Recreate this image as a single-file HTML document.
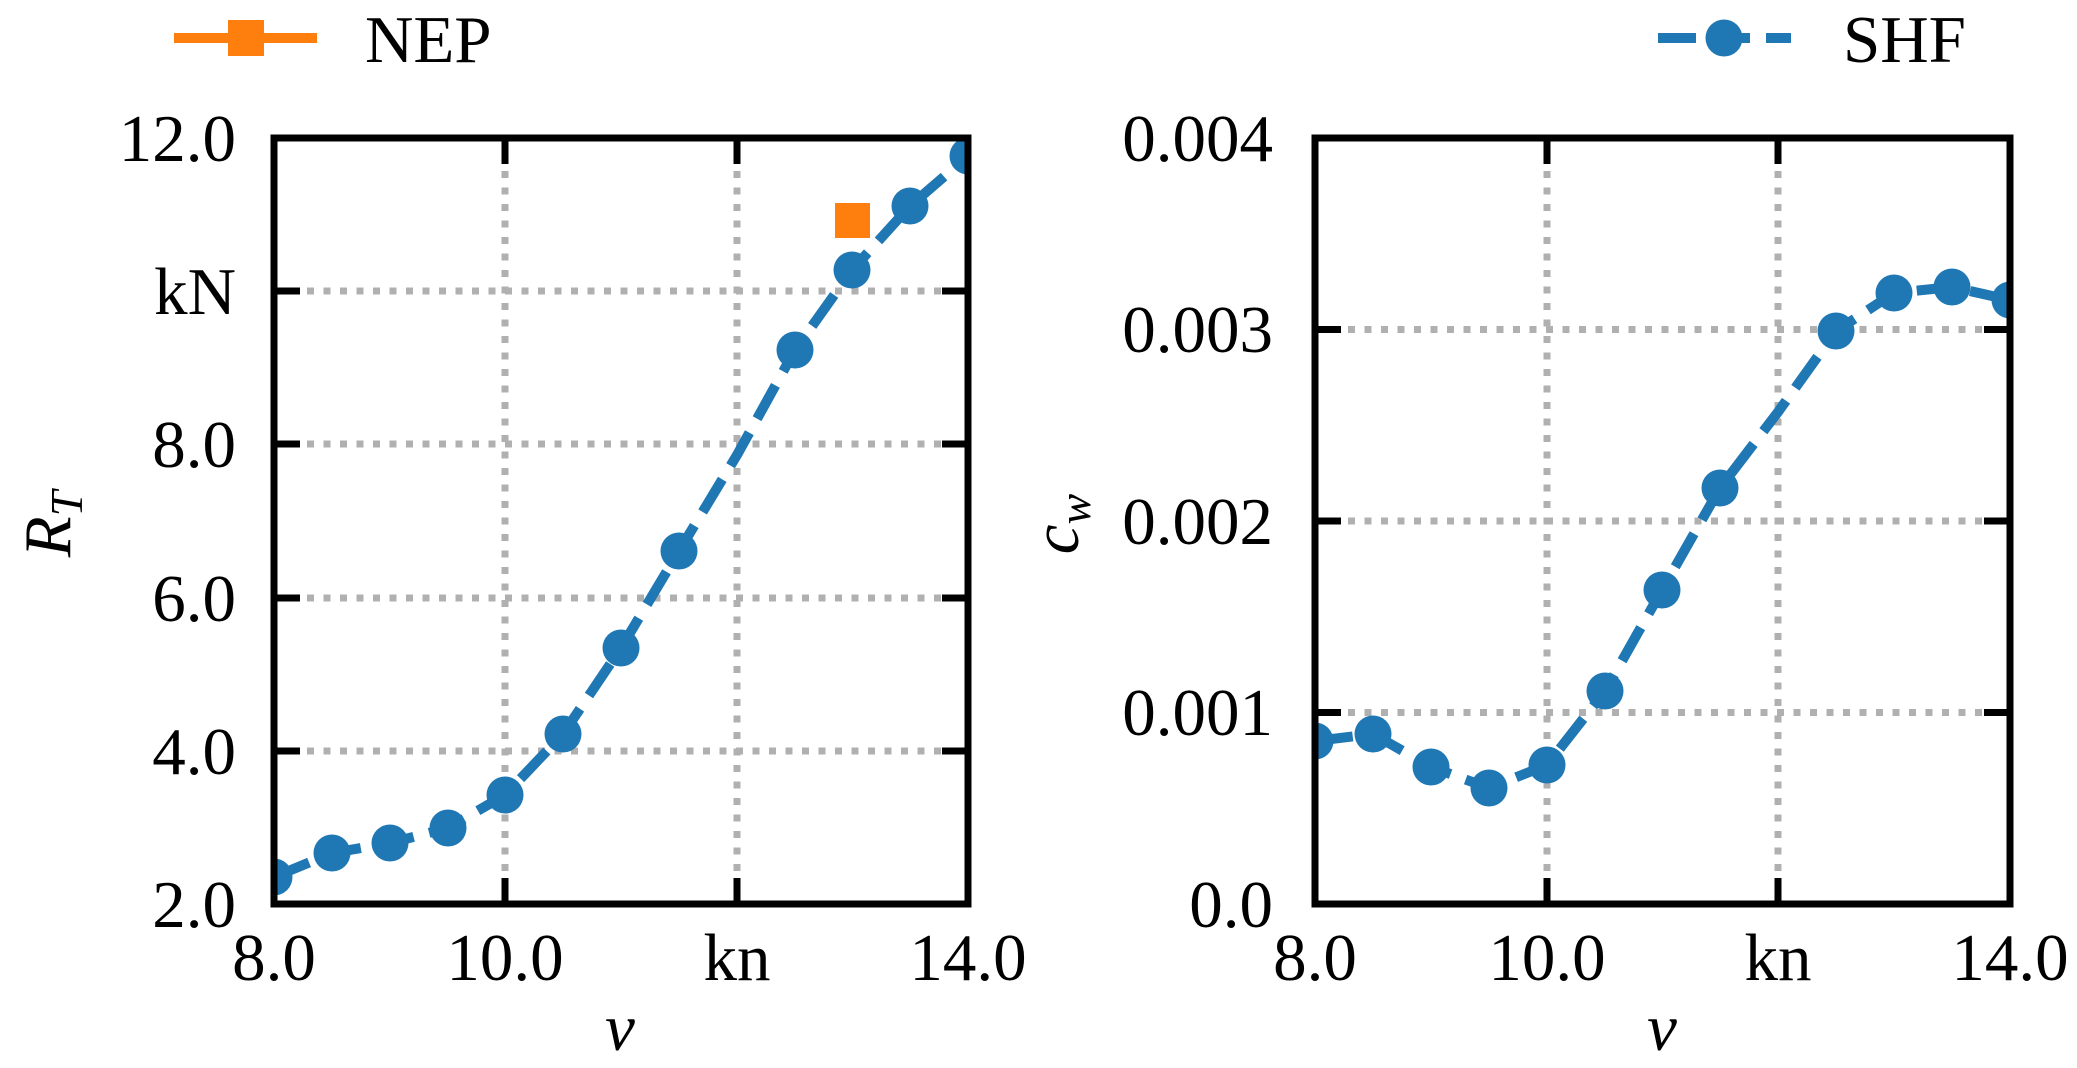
<!DOCTYPE html>
<html><head><meta charset="utf-8"><style>html,body{margin:0;padding:0;background:#fff}svg{display:block}text{font-family:"Liberation Serif",serif;fill:#000}</style></head><body>
<svg width="2077" height="1068" viewBox="0 0 2077 1068" xmlns="http://www.w3.org/2000/svg">
<defs>
<clipPath id="c1"><rect x="274" y="138" width="694" height="766"/></clipPath>
<clipPath id="c2"><rect x="1315" y="138" width="695" height="766"/></clipPath>
</defs>
<g stroke="#b0b0b0" stroke-width="7" stroke-dasharray="7,9.5">
<line x1="505" y1="138" x2="505" y2="904"/><line x1="737" y1="138" x2="737" y2="904"/>
<line x1="274" y1="291" x2="968" y2="291"/><line x1="274" y1="444" x2="968" y2="444"/>
<line x1="274" y1="598" x2="968" y2="598"/><line x1="274" y1="751" x2="968" y2="751"/>
</g>
<g clip-path="url(#c1)">
<polyline fill="none" stroke="#1f77b4" stroke-width="10" stroke-dasharray="38,16" points="274,877 332,853 390,843 448,828 505,795 563,734 621,648 679,551 737,455 795,350 852,270 910,206 968,156"/>
<g fill="#1f77b4">
<circle cx="274" cy="877" r="18.5"/><circle cx="332" cy="853" r="18.5"/><circle cx="390" cy="843" r="18.5"/><circle cx="448" cy="828" r="18.5"/><circle cx="505" cy="795" r="18.5"/><circle cx="563" cy="734" r="18.5"/><circle cx="621" cy="648" r="18.5"/><circle cx="679" cy="551" r="18.5"/><circle cx="795" cy="350" r="18.5"/><circle cx="852" cy="270" r="18.5"/><circle cx="910" cy="206" r="18.5"/><circle cx="968" cy="156" r="18.5"/>
</g>
<rect x="835" y="203" width="35" height="35" fill="#ff7f0e"/>
</g>
<g stroke="#000" stroke-width="7" fill="none">
<rect x="274" y="138" width="694" height="766"/>
<path d="M505 138v26M737 138v26M505 904v-26M737 904v-26M274 291h26M274 444h26M274 598h26M274 751h26M968 291h-26M968 444h-26M968 598h-26M968 751h-26"/>
</g>
<g font-size="67" text-anchor="end">
<text x="236" y="161">12.0</text><text x="236" y="314">kN</text><text x="236" y="467">8.0</text><text x="236" y="621">6.0</text><text x="236" y="774">4.0</text><text x="236" y="927">2.0</text>
</g>
<g font-size="67" text-anchor="middle">
<text x="274" y="980">8.0</text><text x="505" y="980">10.0</text><text x="737" y="980">kn</text><text x="968" y="980">14.0</text>
<text x="620" y="1050" font-style="italic">v</text>
</g>
<text transform="translate(70,524) rotate(-90)" font-size="67" font-style="italic" text-anchor="middle">R<tspan font-size="46" dy="12">T</tspan></text>
<line x1="174" y1="38" x2="317" y2="38" stroke="#ff7f0e" stroke-width="10"/>
<rect x="228" y="20" width="36" height="36" fill="#ff7f0e"/>
<text x="365" y="62" font-size="67">NEP</text>

<g stroke="#b0b0b0" stroke-width="7" stroke-dasharray="7,9.5">
<line x1="1547" y1="138" x2="1547" y2="904"/><line x1="1778" y1="138" x2="1778" y2="904"/>
<line x1="1315" y1="329.5" x2="2010" y2="329.5"/><line x1="1315" y1="521" x2="2010" y2="521"/><line x1="1315" y1="712.5" x2="2010" y2="712.5"/>
</g>
<g clip-path="url(#c2)">
<polyline fill="none" stroke="#1f77b4" stroke-width="10" stroke-dasharray="38,16" points="1315,741 1373,734 1431,767 1489,788 1547,765 1605,691 1662,590 1720,488 1778,412 1836,331 1894,293 1952,287 2010,300"/>
<g fill="#1f77b4">
<circle cx="1315" cy="741" r="18.5"/><circle cx="1373" cy="734" r="18.5"/><circle cx="1431" cy="767" r="18.5"/><circle cx="1489" cy="788" r="18.5"/><circle cx="1547" cy="765" r="18.5"/><circle cx="1605" cy="691" r="18.5"/><circle cx="1662" cy="590" r="18.5"/><circle cx="1720" cy="488" r="18.5"/><circle cx="1836" cy="331" r="18.5"/><circle cx="1894" cy="293" r="18.5"/><circle cx="1952" cy="287" r="18.5"/><circle cx="2010" cy="300" r="18.5"/>
</g>
</g>
<g stroke="#000" stroke-width="7" fill="none">
<rect x="1315" y="138" width="695" height="766"/>
<path d="M1547 138v26M1778 138v26M1547 904v-26M1778 904v-26M1315 329.5h26M1315 521h26M1315 712.5h26M2010 329.5h-26M2010 521h-26M2010 712.5h-26"/>
</g>
<g font-size="67" text-anchor="end">
<text x="1273" y="161">0.004</text><text x="1273" y="352">0.003</text><text x="1273" y="544">0.002</text><text x="1273" y="735">0.001</text><text x="1273" y="927">0.0</text>
</g>
<g font-size="67" text-anchor="middle">
<text x="1315" y="980">8.0</text><text x="1547" y="980">10.0</text><text x="1778" y="980">kn</text><text x="2010" y="980">14.0</text>
<text x="1662" y="1050" font-style="italic">v</text>
</g>
<text transform="translate(1078,524) rotate(-90)" font-size="67" font-style="italic" text-anchor="middle">c<tspan font-size="46" dy="12">w</tspan></text>
<line x1="1658" y1="38" x2="1791" y2="38" stroke="#1f77b4" stroke-width="10" stroke-dasharray="38,16"/>
<circle cx="1724" cy="38" r="18.5" fill="#1f77b4"/>
<text x="1843" y="62" font-size="67">SHF</text>
</svg>
</body></html>
